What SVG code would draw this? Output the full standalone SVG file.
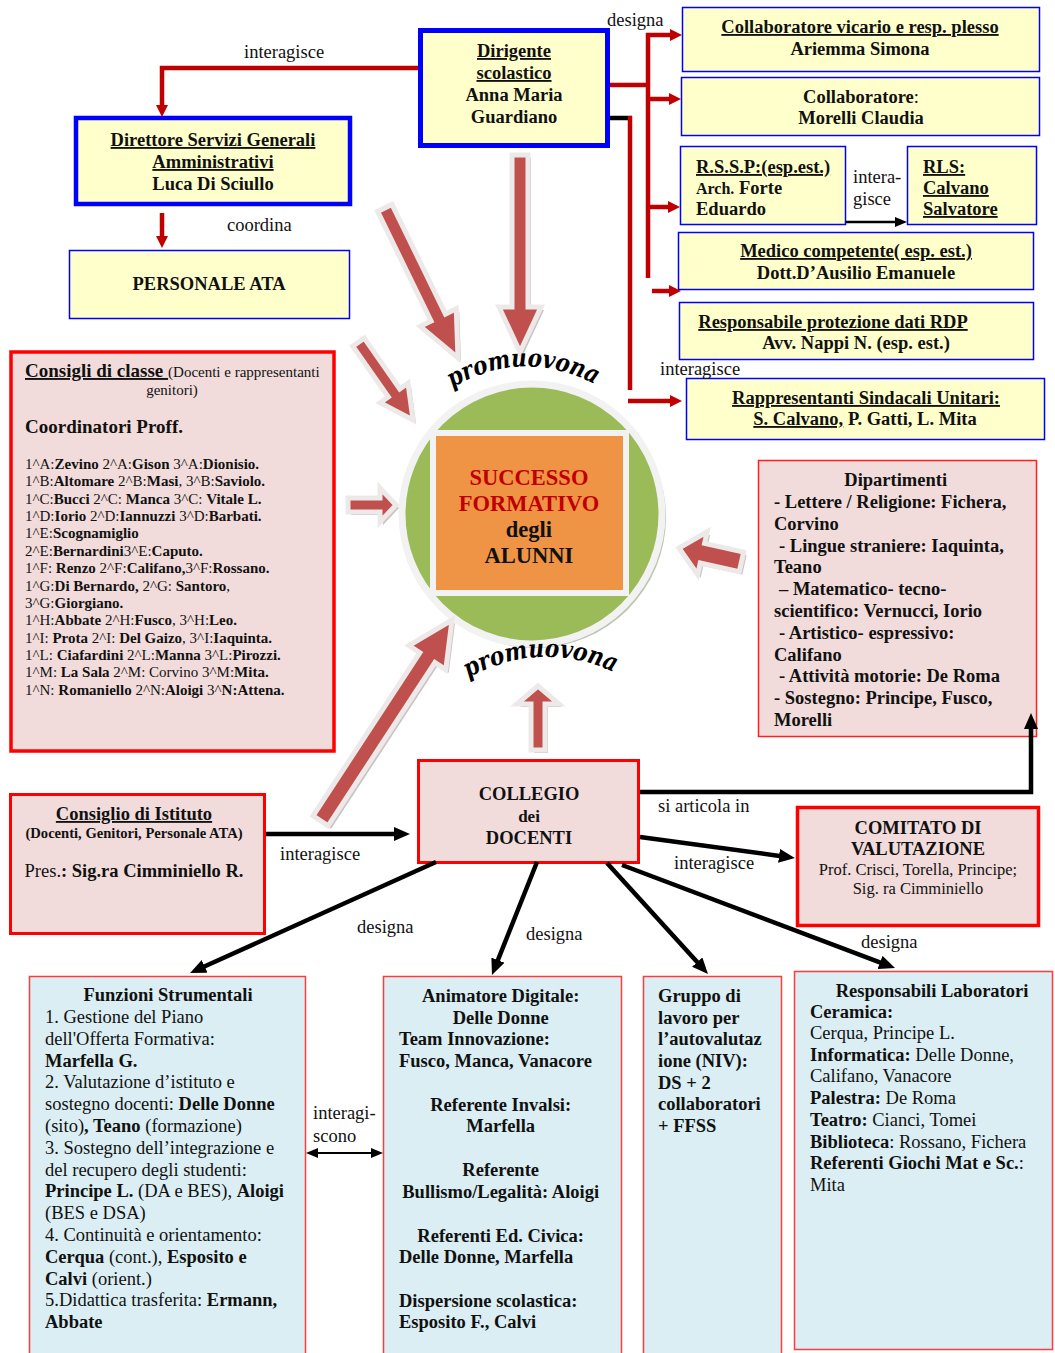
<svg xmlns="http://www.w3.org/2000/svg" width="1055" height="1353" viewBox="0 0 1055 1353">
<style>
.t{font-family:"Liberation Serif","Times New Roman",serif;font-size:18.5px;fill:#111}
.b{font-weight:bold}
.u{text-decoration:underline}
.c{text-anchor:middle}
.s15{font-size:15px}
.yb{fill:#FFFFCC;stroke:#0000FF;stroke-width:1.5}
.ybk{fill:#FFFFCC;stroke:#0000FF;stroke-width:5}
.pk{fill:#F2DCDB;stroke:#FF0000;stroke-width:3.5}
.pk1{fill:#F2DCDB;stroke:#FF2020;stroke-width:1.5}
.lb{fill:#DAEEF3;stroke:#FF3B3B;stroke-width:1.5}
.rl{stroke:#C00000;stroke-width:4.5;fill:none}
.bl{stroke:#000;stroke-width:4.5;fill:none}
.bt{stroke:#000;stroke-width:2;fill:none}
.blk{fill:#C0504D;stroke:#EDE9E9;stroke-width:5;stroke-linejoin:miter}
.shd{fill:#A89C9C;opacity:0.6}
.pm{font-family:"DejaVu Serif","Liberation Serif",serif;font-weight:bold;font-style:italic;font-size:25px;fill:#000}
</style>
<defs>
<marker id="mr" viewBox="0 0 12 12" refX="3" refY="6" markerWidth="12" markerHeight="12" orient="auto" markerUnits="userSpaceOnUse"><path d="M0,0 L12,6 L0,12 z" fill="#C00000"/></marker>
<marker id="mb" viewBox="0 0 16 14" refX="4" refY="7" markerWidth="16" markerHeight="14" orient="auto" markerUnits="userSpaceOnUse"><path d="M0,0 L16,7 L0,14 z" fill="#000"/></marker>
<marker id="ms" viewBox="0 0 12 10" refX="3" refY="5" markerWidth="12" markerHeight="10" orient="auto-start-reverse" markerUnits="userSpaceOnUse"><path d="M0,0 L12,5 L0,10 z" fill="#000"/></marker>
<path id="aA" transform="translate(458,358) rotate(64)" d="M0,0 L-45,-20 L-45,-8 L-167,-8 L-167,8 L-45,8 L-45,20 Z"/>
<path id="aB" transform="translate(520,352) rotate(90)" d="M0,0 L-45,-21 L-45,-8 L-197,-8 L-197,8 L-45,8 L-45,21 Z"/>
<path id="aC" transform="translate(413,420) rotate(55)" d="M0,0 L-33,-17 L-33,-7 L-95,-7 L-95,7 L-33,7 L-33,17 Z"/>
<path id="aD" transform="translate(396,505)" d="M0,0 L-16,-17 L-16,-7 L-48,-7 L-48,7 L-16,7 L-16,17 Z"/>
<path id="aE" transform="translate(679,548) rotate(192.5)" d="M0,0 L-24,-22 L-24,-10 L-64,-10 L-64,10 L-24,10 L-24,22 Z"/>
<path id="aF" transform="translate(538,686) rotate(-90)" d="M0,0 L-18,-21 L-18,-7 L-64,-7 L-64,7 L-18,7 L-18,21 Z"/>
<path id="aG" transform="translate(452,620) rotate(-56.8)" d="M0,0 L-45,-22 L-45,-9 L-240,-9 L-240,9 L-45,9 L-45,22 Z"/>
<path id="pr1" d="M452,388 Q524,346 598,386"/>
<path id="pr2" d="M468,678 Q540,639 614,672"/>
</defs>
<rect width="1055" height="1353" fill="#fff"/>

<g id="dirigente">
<rect class="ybk" x="420.5" y="30.5" width="187" height="115"/>
<text class="t b c" x="514"><tspan class="u" x="514" y="57">Dirigente</tspan><tspan class="u" x="514" y="79">scolastico</tspan><tspan x="514" y="101">Anna Maria</tspan><tspan x="514" y="123">Guardiano</tspan></text>
</g>

<g id="dsga">
<rect class="ybk" x="76" y="118" width="274" height="86" style="stroke-width:4.5"/>
<text class="t b c"><tspan class="u" x="213" y="146">Direttore  Servizi Generali</tspan><tspan class="u" x="213" y="168">Amministrativi</tspan><tspan x="213" y="190">Luca Di Sciullo</tspan></text>
</g>

<g id="personale-ata">
<rect class="yb" x="69.5" y="250.5" width="280" height="68"/>
<text class="t b c" x="209" y="290">PERSONALE ATA</text>
</g>

<g id="collaboratore-vicario">
<rect class="yb" x="682.5" y="7.5" width="357" height="64"/>
<text class="t b c"><tspan class="u" x="860" y="33">Collaboratore vicario e resp. plesso</tspan><tspan x="860" y="55">Ariemma Simona</tspan></text>
</g>

<g id="collaboratore">
<rect class="yb" x="681.5" y="77.5" width="358" height="58"/>
<text class="t c" x="861" y="103"><tspan class="b">Collaboratore</tspan>:</text>
<text class="t b c" x="861" y="124">Morelli Claudia</text>
</g>

<g id="rssp">
<rect class="yb" x="680.5" y="146.5" width="165" height="78"/>
<text class="t b"><tspan class="u" x="696" y="173">R.S.S.P:(esp.est.)</tspan><tspan x="696" y="194"><tspan style="font-size:16px">Arch.</tspan> Forte</tspan><tspan x="696" y="215">Eduardo</tspan></text>
</g>

<g id="rls">
<rect class="yb" x="907.5" y="146.5" width="129" height="78"/>
<text class="t b u"><tspan x="923" y="173">RLS:</tspan><tspan x="923" y="194">Calvano</tspan><tspan x="923" y="215">Salvatore</tspan></text>
</g>

<g id="medico">
<rect class="yb" x="678.5" y="232.5" width="355" height="57"/>
<text class="t b c"><tspan class="u" x="856" y="257">Medico competente( esp. est.)</tspan><tspan x="856" y="279">Dott.D’Ausilio Emanuele</tspan></text>
</g>

<g id="rdp">
<rect class="yb" x="679.5" y="302.5" width="354" height="57"/>
<text class="t b c"><tspan class="u" x="833" y="328">Responsabile  protezione dati RDP</tspan><tspan x="856" y="349">Avv. Nappi N.  (esp. est.)</tspan></text>
</g>

<g id="rsu">
<rect class="yb" x="686.5" y="378.5" width="358" height="61"/>
<text class="t b c"><tspan class="u" x="866" y="404">Rappresentanti Sindacali Unitari:</tspan></text>
<text class="t b c" x="865" y="425"><tspan class="u">S. Calvano,</tspan> P. Gatti,  L. Mita</text>
</g>

<g id="consigli-classe">
<rect class="pk" x="11" y="352" width="323" height="399"/>
<text class="t" x="25" y="377"><tspan class="b u" style="font-size:19px">Consigli di classe </tspan><tspan class="s15">(Docenti e rappresentanti</tspan></text>
<text class="t s15 c" x="172" y="395">genitori)</text>
<text class="t b" x="25" y="433" style="font-size:19px">Coordinatori Proff.</text>
<g class="t s15">
<text x="25" y="469">1^A:<tspan class="b">Zevino</tspan> 2^A:<tspan class="b">Gison</tspan>  3^A:<tspan class="b">Dionisio.</tspan></text>
<text x="25" y="486.4">1^B:<tspan class="b">Altomare</tspan> 2^B:<tspan class="b">Masi</tspan>, 3^B:<tspan class="b">Saviolo.</tspan></text>
<text x="25" y="503.7">1^C:<tspan class="b">Bucci</tspan> 2^C: <tspan class="b">Manca</tspan> 3^C: <tspan class="b">Vitale L.</tspan></text>
<text x="25" y="521.1">1^D:<tspan class="b">Iorio</tspan> 2^D:<tspan class="b">Iannuzzi</tspan> 3^D:<tspan class="b">Barbati.</tspan></text>
<text x="25" y="538.4">1^E:<tspan class="b">Scognamiglio</tspan></text>
<text x="25" y="555.8">2^E:<tspan class="b">Bernardini</tspan>3^E:<tspan class="b">Caputo.</tspan></text>
<text x="25" y="573.1">1^F: <tspan class="b">Renzo</tspan> 2^F:<tspan class="b">Califano,</tspan>3^F:<tspan class="b">Rossano.</tspan></text>
<text x="25" y="590.5">1^G:<tspan class="b">Di Bernardo, </tspan>2^G: <tspan class="b">Santoro</tspan>,</text>
<text x="25" y="607.8">3^G:<tspan class="b">Giorgiano.</tspan></text>
<text x="25" y="625.2">1^H:<tspan class="b">Abbate</tspan> 2^H:<tspan class="b">Fusco</tspan>, 3^H:<tspan class="b">Leo.</tspan></text>
<text x="25" y="642.5">1^I: <tspan class="b">Prota</tspan> 2^I: <tspan class="b">Del Gaizo</tspan>, 3^I:<tspan class="b">Iaquinta.</tspan></text>
<text x="25" y="659.9">1^L: <tspan class="b">Ciafardini</tspan> 2^L:<tspan class="b">Manna</tspan> 3^L:<tspan class="b">Pirozzi.</tspan></text>
<text x="25" y="677.2">1^M: <tspan class="b">La Sala</tspan> 2^M: Corvino 3^M:<tspan class="b">Mita.</tspan></text>
<text x="25" y="694.6">1^N: <tspan class="b">Romaniello</tspan> 2^N:<tspan class="b">Aloigi</tspan> 3^<tspan class="b">N:Attena.</tspan></text>
</g>
</g>

<g id="successo">
<circle cx="535" cy="517" r="131" fill="#9FAE8A" opacity="0.7"/>
<circle cx="532" cy="514" r="130" fill="#9BBB59" stroke="#F2F2F2" stroke-width="7"/>
<rect x="436" y="436" width="193" height="160" fill="#8F6A3A" opacity="0.7"/>
<rect x="433" y="433" width="193" height="160" fill="#EE9444" stroke="#F2F2F2" stroke-width="6"/>
<text class="t b c" style="font-size:22.5px"><tspan x="529" y="485" fill="#C00000">SUCCESSO</tspan><tspan x="529" y="511" fill="#C00000">FORMATIVO</tspan><tspan x="529" y="537">degli</tspan><tspan x="529" y="563">ALUNNI</tspan></text>
</g>

<g id="dipartimenti">
<rect class="pk1" x="758.5" y="460.5" width="278" height="276"/>
<text class="t b">
<tspan x="898" y="486" text-anchor="middle">Dipartimenti</tspan>
<tspan x="774" y="508">- Lettere / Religione: Fichera,</tspan>
<tspan x="774" y="529.8">Corvino</tspan>
<tspan x="779" y="551.6">- Lingue straniere: Iaquinta,</tspan>
<tspan x="774" y="573.4">Teano</tspan>
<tspan x="779" y="595.2">– Matematico- tecno-</tspan>
<tspan x="774" y="617">scientifico: Vernucci, Iorio</tspan>
<tspan x="779" y="638.8">- Artistico- espressivo:</tspan>
<tspan x="774" y="660.6">Califano</tspan>
<tspan x="779" y="682.4">- Attività motorie: De Roma</tspan>
<tspan x="774" y="704.2">- Sostegno: Principe, Fusco,</tspan>
<tspan x="774" y="726">Morelli</tspan>
</text>
</g>

<g id="consiglio-istituto">
<rect class="pk" x="10.5" y="794.5" width="254" height="139" style="stroke-width:3"/>
<text class="t b u c" x="134" y="820">Consiglio di Istituto</text>
<text class="t b c" x="134" y="838" style="font-size:14.6px">(Docenti, Genitori, Personale ATA)</text>
<text class="t c" x="134" y="877">Pres.<tspan class="b">: Sig.ra Cimminiello R.</tspan></text>
</g>

<g id="collegio">
<rect class="pk" x="418.5" y="760.5" width="220" height="102" style="stroke-width:3"/>
<text class="t b c"><tspan x="529" y="800">COLLEGIO</tspan><tspan x="529" y="822" style="font-size:17px">dei</tspan><tspan x="529" y="844">DOCENTI</tspan></text>
</g>

<g id="comitato">
<rect class="pk" x="797.5" y="807.5" width="241" height="118"/>
<text class="t b c"><tspan x="918" y="834">COMITATO DI</tspan><tspan x="918" y="855">VALUTAZIONE</tspan></text>
<text class="t c" style="font-size:16.5px"><tspan x="918" y="875">Prof. Crisci, Torella, Principe;</tspan><tspan x="918" y="894">Sig. ra Cimminiello</tspan></text>
</g>

<g id="funzioni">
<rect class="lb" x="29.5" y="976.5" width="276" height="400"/>
<text class="t b c" x="168" y="1001">Funzioni Strumentali</text>
<text class="t">
<tspan x="45" y="1023">1. Gestione del Piano</tspan>
<tspan x="45" y="1044.8">dell'Offerta Formativa:</tspan>
<tspan x="45" y="1066.6" class="b">Marfella G.</tspan>
<tspan x="45" y="1088.4">2. Valutazione d’istituto e</tspan>
<tspan x="45" y="1110.2">sostegno docenti: <tspan class="b">Delle Donne</tspan></tspan>
<tspan x="45" y="1132">(sito)<tspan class="b">, Teano</tspan> (formazione)</tspan>
<tspan x="45" y="1153.8">3. Sostegno dell’integrazione e</tspan>
<tspan x="45" y="1175.6">del recupero degli studenti:</tspan>
<tspan x="45" y="1197.4"><tspan class="b">Principe L.</tspan> (DA e BES), <tspan class="b">Aloigi</tspan></tspan>
<tspan x="45" y="1219.2">(BES e DSA)</tspan>
<tspan x="45" y="1241">4. Continuità e orientamento:</tspan>
<tspan x="45" y="1262.8"><tspan class="b">Cerqua</tspan> (cont.), <tspan class="b">Esposito e</tspan></tspan>
<tspan x="45" y="1284.6"><tspan class="b">Calvi</tspan> (orient.)</tspan>
<tspan x="45" y="1306.4">5.Didattica trasferita: <tspan class="b">Ermann,</tspan></tspan>
<tspan x="45" y="1328.2" class="b">Abbate</tspan>
</text>
</g>

<g id="animatore">
<rect class="lb" x="383.5" y="976.5" width="238" height="400"/>
<text class="t b">
<tspan x="503" y="1002" text-anchor="middle">Animatore Digitale:</tspan>
<tspan x="503" y="1024" text-anchor="middle">Delle Donne</tspan>
<tspan x="399" y="1045">Team Innovazione:</tspan>
<tspan x="399" y="1067">Fusco, Manca, Vanacore</tspan>
<tspan x="503" y="1111" text-anchor="middle">Referente Invalsi:</tspan>
<tspan x="503" y="1132" text-anchor="middle">Marfella</tspan>
<tspan x="503" y="1176" text-anchor="middle">Referente</tspan>
<tspan x="503" y="1198" text-anchor="middle">Bullismo/Legalità: Aloigi</tspan>
<tspan x="503" y="1242" text-anchor="middle">Referenti Ed. Civica:</tspan>
<tspan x="399" y="1263">Delle Donne, Marfella</tspan>
<tspan x="399" y="1307">Dispersione scolastica:</tspan>
<tspan x="399" y="1328">Esposito F., Calvi</tspan>
</text>
</g>

<g id="gruppo-niv">
<rect class="lb" x="643.5" y="976.5" width="138" height="400"/>
<text class="t b">
<tspan x="658" y="1002">Gruppo di</tspan>
<tspan x="658" y="1024">lavoro per</tspan>
<tspan x="658" y="1045">l’autovalutaz</tspan>
<tspan x="658" y="1067">ione (NIV):</tspan>
<tspan x="658" y="1089">DS + 2</tspan>
<tspan x="658" y="1110">collaboratori</tspan>
<tspan x="658" y="1132">+ FFSS</tspan>
</text>
</g>

<g id="laboratori">
<rect class="lb" x="794.5" y="971.5" width="258" height="378"/>
<text class="t b c" x="932" y="997">Responsabili Laboratori</text>
<text class="t">
<tspan x="810" y="1018" class="b">Ceramica:</tspan>
<tspan x="810" y="1039">Cerqua, Principe L.</tspan>
<tspan x="810" y="1061"><tspan class="b">Informatica:</tspan> Delle Donne,</tspan>
<tspan x="810" y="1082">Califano, Vanacore</tspan>
<tspan x="810" y="1104"><tspan class="b">Palestra:</tspan> De Roma</tspan>
<tspan x="810" y="1126"><tspan class="b">Teatro:</tspan> Cianci, Tomei</tspan>
<tspan x="810" y="1148"><tspan class="b">Biblioteca</tspan>: Rossano, Fichera</tspan>
<tspan x="810" y="1169"><tspan class="b">Referenti Giochi Mat e Sc.</tspan>:</tspan>
<tspan x="810" y="1191">Mita</tspan>
</text>
</g>

<g id="connectors">
<path class="rl" d="M418,68 H162 V108" marker-end="url(#mr)"/>
<path class="rl" d="M162,213 V239" marker-end="url(#mr)"/>
<path class="rl" d="M610,85 H648"/>
<path class="rl" d="M648,278 V35 H673" marker-end="url(#mr)"/>
<path class="rl" d="M648,99 H672" marker-end="url(#mr)"/>
<path class="rl" d="M648,207 H671" marker-end="url(#mr)"/>
<path class="rl" d="M652,291 H672" marker-end="url(#mr)"/>
<path class="bl" d="M610,118 H632"/>
<path class="rl" d="M630,116 V390"/>
<path class="rl" d="M628,401 H673" marker-end="url(#mr)"/>
<path class="bt" d="M846,222 H898" style="stroke-width:2.5" marker-end="url(#ms)"/>
<path class="bl" d="M266,834 H398" marker-end="url(#mb)"/>
<path class="bl" d="M640,792 H1031 V725" marker-end="url(#mb)"/>
<path class="bl" d="M640,837 L783,856.4" marker-end="url(#mb)"/>
<path class="bl" d="M436,862 L201,968" marker-end="url(#mb)"/>
<path class="bl" d="M537,862 L496.4,963.9" marker-end="url(#mb)"/>
<path class="bl" d="M607,863 L699.9,965.1" marker-end="url(#mb)"/>
<path class="bl" d="M622,865 L883.8,963.8" marker-end="url(#mb)"/>
<path class="bt" d="M315,1153 H374" marker-start="url(#ms)" marker-end="url(#ms)"/>
<use class="shd" href="#aA" x="3" y="3"/><use class="blk" href="#aA"/>
<use class="shd" href="#aB" x="3" y="3"/><use class="blk" href="#aB"/>
<use class="shd" href="#aC" x="3" y="3"/><use class="blk" href="#aC"/>
<use class="shd" href="#aD" x="3" y="3"/><use class="blk" href="#aD"/>
<use class="shd" href="#aE" x="3" y="3"/><use class="blk" href="#aE"/>
<use class="shd" href="#aF" x="3" y="3"/><use class="blk" href="#aF"/>
<use class="shd" href="#aG" x="3" y="3"/><use class="blk" href="#aG"/>
<text class="t" x="244" y="58">interagisce</text>
<text class="t" x="227" y="231">coordina</text>
<text class="t" x="607" y="26">designa</text>
<text class="t" x="853" y="183">intera-</text>
<text class="t" x="853" y="205">gisce</text>
<text class="t" x="660" y="375">interagisce</text>
<text class="t" x="280" y="860">interagisce</text>
<text class="t" x="658" y="812">si articola in</text>
<text class="t" x="674" y="869">interagisce</text>
<text class="t" x="357" y="933">designa</text>
<text class="t" x="526" y="940">designa</text>
<text class="t" x="861" y="948">designa</text>
<text class="t" x="313" y="1119">interagi-</text>
<text class="t" x="313" y="1142">scono</text>
<text class="pm"><textPath href="#pr1" textLength="150" lengthAdjust="spacingAndGlyphs">promuovona</textPath></text>
<text class="pm"><textPath href="#pr2" textLength="152" lengthAdjust="spacingAndGlyphs">promuovona</textPath></text>
</g>
</svg>
